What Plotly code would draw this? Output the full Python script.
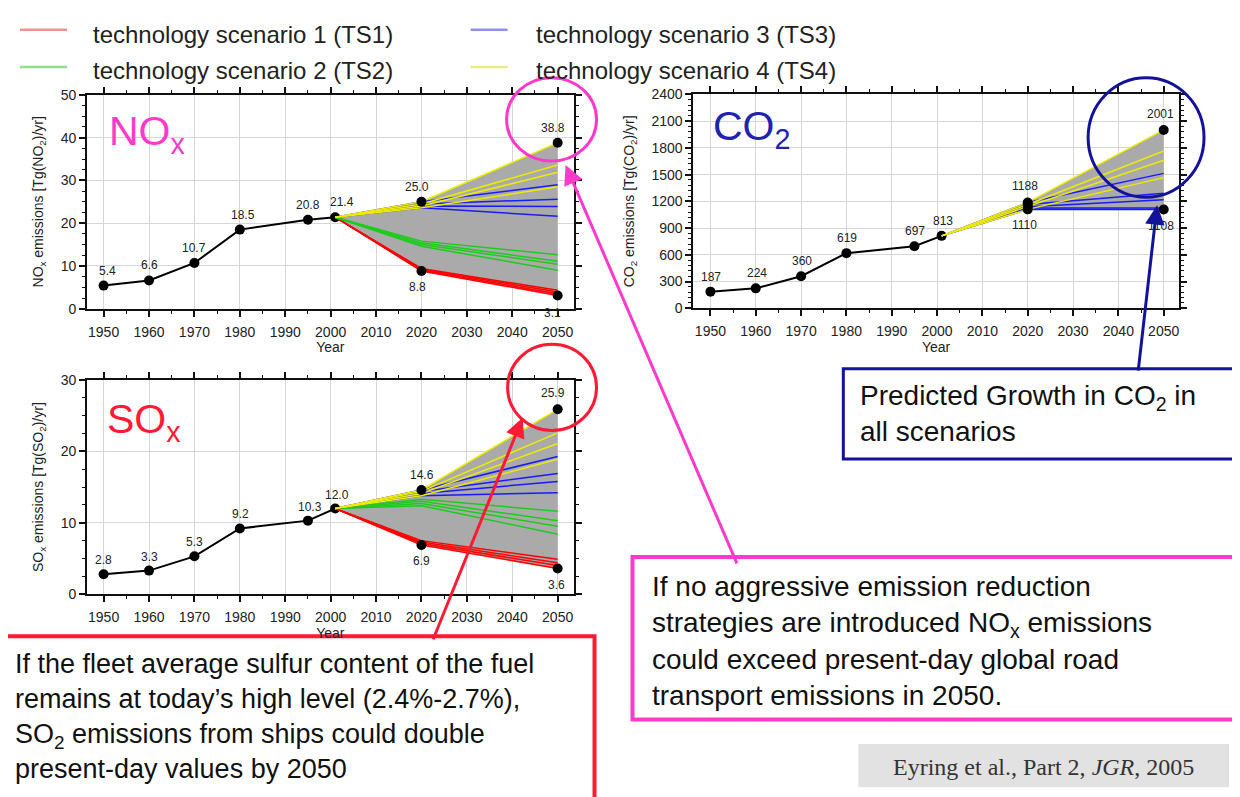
import numpy as np
import plotly.graph_objects as go

# ---------------- data ----------------
hist_years = [1950, 1960, 1970, 1980, 1995, 2001]
nox_hist = [5.4, 6.6, 10.7, 18.5, 20.8, 21.4]
co2_hist = [187, 224, 360, 619, 697, 813]
sox_hist = [2.8, 3.3, 5.3, 9.2, 10.3, 12.0]

scen_years = [2001, 2020, 2050]

# NOx scenario values at 2020 / 2050
nox_ts1_2020 = [8.8, 9.0, 9.2, 9.4]
nox_ts1_2050 = [3.1, 3.5, 3.9, 4.3]
nox_ts2_2020 = [14.6, 15.0, 15.4, 15.8]
nox_ts2_2050 = [9.0, 10.4, 11.1, 12.6]
nox_ts3_2020 = [23.6, 24.0, 24.5, 25.0]
nox_ts3_2050 = [21.6, 23.9, 25.6, 29.0]
nox_ts4_2020 = [23.6, 24.0, 24.5, 25.0]
nox_ts4_2050 = [28.5, 31.9, 33.6, 38.8]

# CO2 scenario values at 2020 / 2050
co2_ts3_2020 = [1110, 1125, 1140, 1165, 1188]
co2_ts3_2050 = [1108, 1126, 1218, 1292, 1514]
co2_ts4_2020 = [1110, 1140, 1165, 1188]
co2_ts4_2050 = [1466, 1661, 1765, 2001]

# SOx scenario values at 2020 / 2050
sox_ts1_2020 = [6.9, 7.1, 7.3, 7.5]
sox_ts1_2050 = [3.6, 4.0, 4.4, 4.9]
sox_ts2_2020 = [12.4, 12.7, 13.0, 13.3]
sox_ts2_2050 = [8.4, 9.5, 10.3, 11.6]
sox_ts3_2020 = [13.8, 14.1, 14.4, 14.6]
sox_ts3_2050 = [14.2, 15.8, 16.9, 19.3]
sox_ts4_2020 = [13.8, 14.1, 14.4, 14.6]
sox_ts4_2050 = [18.9, 21.1, 22.6, 25.9]

legend_labels = ["technology scenario 1 (TS1)", "technology scenario 2 (TS2)",
                 "technology scenario 3 (TS3)", "technology scenario 4 (TS4)"]

# ---------------- styling ----------------
W, H = 1240, 797
FONT = "Liberation Sans, Arial, Helvetica, sans-serif"
TS_COLORS = ["#ff0000", "#1ccc1c", "#1a1aff", "#ecec00"]
LEG_COLORS = ["#f39090", "#90e090", "#9090f0", "#ecec80"]
MAGENTA = "#ff3acb"
RED = "#ff1a35"
NAVY = "#12129a"
GRAY_FILL = "#aaaaaa"


def px(x):
    return x / W


def py(y):
    return 1 - y / H


fig = go.Figure()


def add_panel(xa, ya, hist, scenarios, end_marks):
    last = hist[-1]
    lines = []
    for ci, (v20, v50) in enumerate(scenarios):
        for a, b in zip(v20, v50):
            lines.append((ci, [last, a, b]))
    arr = np.array([l[1] for l in lines])
    upper = arr.max(axis=0)
    lower = arr.min(axis=0)
    fig.add_trace(go.Scatter(
        x=scen_years + scen_years[::-1],
        y=list(upper) + list(lower[::-1]),
        fill="toself", fillcolor=GRAY_FILL, line=dict(width=0),
        mode="lines", hoverinfo="skip", showlegend=False, xaxis=xa, yaxis=ya))
    fig.add_trace(go.Scatter(
        x=hist_years, y=hist, mode="lines+markers",
        line=dict(color="black", width=2), marker=dict(color="black", size=10),
        showlegend=False, xaxis=xa, yaxis=ya))
    for ci, ys in lines:
        fig.add_trace(go.Scatter(
            x=scen_years, y=ys, mode="lines",
            line=dict(color=TS_COLORS[ci], width=1.5),
            showlegend=False, xaxis=xa, yaxis=ya))
    mx, my = zip(*end_marks)
    fig.add_trace(go.Scatter(
        x=list(mx), y=list(my), mode="markers",
        marker=dict(color="black", size=10), showlegend=False, xaxis=xa, yaxis=ya))
    return upper, lower


# NOx panel
nox_sc = [(nox_ts1_2020, nox_ts1_2050), (nox_ts2_2020, nox_ts2_2050),
          (nox_ts3_2020, nox_ts3_2050), (nox_ts4_2020, nox_ts4_2050)]
nox_all20 = nox_ts1_2020 + nox_ts2_2020 + nox_ts3_2020 + nox_ts4_2020
nox_all50 = nox_ts1_2050 + nox_ts2_2050 + nox_ts3_2050 + nox_ts4_2050
nox_marks = [(2020, max(nox_all20)), (2020, min(nox_all20)),
             (2050, max(nox_all50)), (2050, min(nox_all50))]
add_panel("x", "y", nox_hist, nox_sc, nox_marks)

# CO2 panel (TS3 blue and TS4 yellow only)
co2_lines_sc = [([], []), ([], []), (co2_ts3_2020, co2_ts3_2050), (co2_ts4_2020, co2_ts4_2050)]
co2_all20 = co2_ts3_2020 + co2_ts4_2020
co2_all50 = co2_ts3_2050 + co2_ts4_2050
co2_marks = [(2020, v) for v in co2_ts4_2020] + [(2050, max(co2_all50)), (2050, min(co2_all50))]
add_panel("x2", "y2", co2_hist, co2_lines_sc, co2_marks)

# SOx panel
sox_sc = [(sox_ts1_2020, sox_ts1_2050), (sox_ts2_2020, sox_ts2_2050),
          (sox_ts3_2020, sox_ts3_2050), (sox_ts4_2020, sox_ts4_2050)]
sox_all20 = sox_ts1_2020 + sox_ts2_2020 + sox_ts3_2020 + sox_ts4_2020
sox_all50 = sox_ts1_2050 + sox_ts2_2050 + sox_ts3_2050 + sox_ts4_2050
sox_marks = [(2020, max(sox_all20)), (2020, min(sox_all20)),
             (2050, max(sox_all50)), (2050, min(sox_all50))]
add_panel("x3", "y3", sox_hist, sox_sc, sox_marks)


# ---------------- axes ----------------
def xaxis(dom, rng, anchor):
    return dict(domain=dom, range=rng, anchor=anchor, tickmode="linear", tick0=1950, dtick=10,
                ticks="outside", ticklen=6, tickwidth=1.5, tickcolor="#111",
                minor=dict(tick0=1950, dtick=5, ticks="outside", ticklen=3, tickwidth=1, tickcolor="#111"),
                showgrid=True, gridcolor="#d6d6d6", gridwidth=1,
                showline=True, linecolor="#111", linewidth=2, mirror="allticks", zeroline=False,
                tickfont=dict(family=FONT, size=14, color="#222"), ticklabelstandoff=3,
                title=dict(text="Year", font=dict(family=FONT, size=14, color="#222"), standoff=4),
                fixedrange=True)


def yaxis(dom, rng, dt, mdt, anchor, title):
    return dict(domain=dom, range=rng, anchor=anchor, tickmode="linear", tick0=0, dtick=dt,
                ticks="outside", ticklen=6, tickwidth=1.5, tickcolor="#111",
                minor=dict(tick0=0, dtick=mdt, ticks="outside", ticklen=3, tickwidth=1, tickcolor="#111"),
                showgrid=True, gridcolor="#d6d6d6", gridwidth=1,
                showline=True, linecolor="#111", linewidth=2, mirror="allticks", zeroline=False,
                tickfont=dict(family=FONT, size=14, color="#222"),
                title=dict(text=title, font=dict(family=FONT, size=14, color="#222"), standoff=14),
                fixedrange=True)


nox_dx = [px(79.2), px(566)]
nox_dy = [py(298.7), py(80.5)]
co2_dx = [px(686), px(1171.6)]
co2_dy = [py(298.3), py(80)]
sox_dx = [px(79.2), px(566)]
sox_dy = [py(590), py(371.5)]

fig.update_layout(
    width=W, height=H, autosize=False,
    margin=dict(l=0, r=0, t=0, b=0),
    paper_bgcolor="white", plot_bgcolor="white",
    font=dict(family=FONT, color="#222"),
    showlegend=False,
    xaxis=xaxis(nox_dx, [1946.37, 2053.5], "y"),
    yaxis=yaxis(nox_dy, [0, 50], 10, 2.5, "x",
                "NO<sub>x</sub> emissions [Tg(NO<sub>2</sub>)/yr]"),
    xaxis2=xaxis(co2_dx, [1946.25, 2053.3], "y2"),
    yaxis2=yaxis(co2_dy, [0, 2400], 300, 60, "x2",
                 "CO<sub>2</sub> emissions [Tg(CO<sub>2</sub>)/yr]"),
    xaxis3=xaxis(sox_dx, [1946.37, 2053.5], "y3"),
    yaxis3=yaxis(sox_dy, [0, 30], 10, 2.5, "x3",
                 "SO<sub>x</sub> emissions [Tg(SO<sub>2</sub>)/yr]"),
)

# ---------------- annotations ----------------
ann = []


def plabel(xr, yr, x, y, text, yshift, xshift=0):
    ann.append(dict(xref=xr, yref=yr, x=x, y=y, text=text, showarrow=False,
                    yshift=yshift, xshift=xshift, yanchor="middle", xanchor="center",
                    font=dict(family=FONT, size=12, color="#222")))


nox_shift_x = [4, 0, 0, 3, 0, 7]
for yr_, v, sx in zip(hist_years, nox_hist, nox_shift_x):
    plabel("x", "y", yr_, v, f"{v:.1f}", 15, sx)
plabel("x", "y", 2020, max(nox_all20), f"{max(nox_all20):.1f}", 15, -4)
plabel("x", "y", 2020, min(nox_all20), f"{min(nox_all20):.1f}", -16, -4)
plabel("x", "y", 2050, max(nox_all50), f"{max(nox_all50):.1f}", 15, -5)
plabel("x", "y", 2050, min(nox_all50), f"{min(nox_all50):.1f}", -18, -5)

for yr_, v in zip(hist_years, co2_hist):
    plabel("x2", "y2", yr_, v, f"{v}", 15, 1)
plabel("x2", "y2", 2020, max(co2_all20), f"{max(co2_all20)}", 16, -3)
plabel("x2", "y2", 2020, min(co2_all20), f"{min(co2_all20)}", -16, -3)
plabel("x2", "y2", 2050, max(co2_all50), f"{max(co2_all50)}", 16, -3)
plabel("x2", "y2", 2050, min(co2_all50), f"{min(co2_all50)}", -16, -3)

sox_shift_x = [0, 0, 0, 1, 2, 2]
for yr_, v, sx in zip(hist_years, sox_hist, sox_shift_x):
    plabel("x3", "y3", yr_, v, f"{v:.1f}", 14, sx)
plabel("x3", "y3", 2020, max(sox_all20), f"{max(sox_all20):.1f}", 15, 1)
plabel("x3", "y3", 2020, min(sox_all20), f"{min(sox_all20):.1f}", -16, 0)
plabel("x3", "y3", 2050, max(sox_all50), f"{max(sox_all50):.1f}", 16, -5)
plabel("x3", "y3", 2050, min(sox_all50), f"{min(sox_all50):.1f}", -17, -1)

# big species labels
ann.append(dict(xref="paper", yref="paper", x=px(99), y=py(120), text="NO<sub>x</sub>",
                showarrow=False, xanchor="left", yanchor="middle",
                font=dict(family=FONT, size=41, color=MAGENTA)))
ann.append(dict(xref="paper", yref="paper", x=px(704), y=py(115), text="CO<sub>2</sub>",
                showarrow=False, xanchor="left", yanchor="middle",
                font=dict(family=FONT, size=41, color="#2222b0")))
ann.append(dict(xref="paper", yref="paper", x=px(97), y=py(414), text="SO<sub>x</sub>",
                showarrow=False, xanchor="left", yanchor="middle",
                font=dict(family=FONT, size=41, color=RED)))

# legend (drawn as lines + text)
leg_pos = [(12, 59, 14, 83, 19), (12, 59, 52, 83, 56), (463, 500, 14, 526, 19), (463, 500, 52, 526, 56)]
shapes = []
for (x0, x1, ly, tx, ty), lab, col in zip(leg_pos, legend_labels, LEG_COLORS):
    shapes.append(dict(type="line", xref="paper", yref="paper", x0=px(x0), x1=px(x1),
                       y0=py(ly), y1=py(ly), line=dict(color=col, width=2.5)))
    ann.append(dict(xref="paper", yref="paper", x=px(tx), y=py(ty), text=lab, showarrow=False,
                    xanchor="left", yanchor="middle",
                    font=dict(family=FONT, size=24, color="#222")))

# circles
shapes.append(dict(type="circle", xref="paper", yref="paper", x0=px(499), x1=px(589),
                   y0=py(148), y1=py(63), line=dict(color=MAGENTA, width=3)))
shapes.append(dict(type="circle", xref="paper", yref="paper", x0=px(1081), x1=px(1197),
                   y0=py(185), y1=py(63), line=dict(color=NAVY, width=3)))
shapes.append(dict(type="circle", xref="paper", yref="paper", x0=px(500), x1=px(589),
                   y0=py(423), y1=py(335), line=dict(color=RED, width=3)))

# callout boxes
shapes.append(dict(type="rect", xref="paper", yref="paper", x0=px(836), x1=px(1260),
                   y0=py(452), y1=py(360), line=dict(color=NAVY, width=3), fillcolor="rgba(0,0,0,0)"))
shapes.append(dict(type="rect", xref="paper", yref="paper", x0=px(625), x1=px(1260),
                   y0=py(718), y1=py(552), line=dict(color=MAGENTA, width=4), fillcolor="rgba(0,0,0,0)"))
shapes.append(dict(type="rect", xref="paper", yref="paper", x0=px(-10), x1=px(587),
                   y0=py(815), y1=py(633), line=dict(color=RED, width=4), fillcolor="rgba(0,0,0,0)"))
shapes.append(dict(type="rect", xref="paper", yref="paper", x0=px(851), x1=px(1222),
                   y0=py(787), y1=py(743), line=dict(width=0), fillcolor="#e2e2e2"))

# arrows
for (tx, ty, tailx, taily, col) in [(558, 152, 730, 552, MAGENTA),
                                    (515, 410, 425, 633, RED),
                                    (1150, 193, 1131, 360, NAVY)]:
    ann.append(dict(xref="paper", yref="paper", x=px(tx), y=py(ty), text="",
                    showarrow=True, axref="pixel", ayref="pixel",
                    ax=tailx - tx, ay=taily - ty, arrowhead=2, arrowsize=1.3,
                    arrowwidth=3, arrowcolor=col, standoff=0, startstandoff=0))

# callout texts
ann.append(dict(xref="paper", yref="paper", x=px(851), y=py(406), xanchor="left", yanchor="middle",
                align="left", showarrow=False,
                text="Predicted Growth in CO<sub>2</sub> in<br>all scenarios",
                font=dict(family=FONT, size=28, color="#111")))
ann.append(dict(xref="paper", yref="paper", x=px(643), y=py(638), xanchor="left", yanchor="middle",
                align="left", showarrow=False,
                text="If no aggressive emission reduction<br>strategies are introduced NO<sub>x</sub> emissions"
                     "<br>could exceed present-day global road<br>transport emissions in 2050.",
                font=dict(family=FONT, size=28, color="#111")))
ann.append(dict(xref="paper", yref="paper", x=px(5), y=py(715), xanchor="left", yanchor="middle",
                align="left", showarrow=False,
                text="If the fleet average sulfur content of the fuel<br>remains at today’s high level (2.4%-2.7%),"
                     "<br>SO<sub>2</sub> emissions from ships could double<br>present-day values by 2050",
                font=dict(family=FONT, size=27, color="#111")))
ann.append(dict(xref="paper", yref="paper", x=px(1036), y=py(766), xanchor="center", yanchor="middle",
                showarrow=False, text="Eyring et al., Part 2, <i>JGR</i>, 2005",
                font=dict(family="Liberation Serif, Times New Roman, serif", size=24, color="#333")))

fig.update_layout(annotations=ann, shapes=shapes)
fig.write_html("out.html")
